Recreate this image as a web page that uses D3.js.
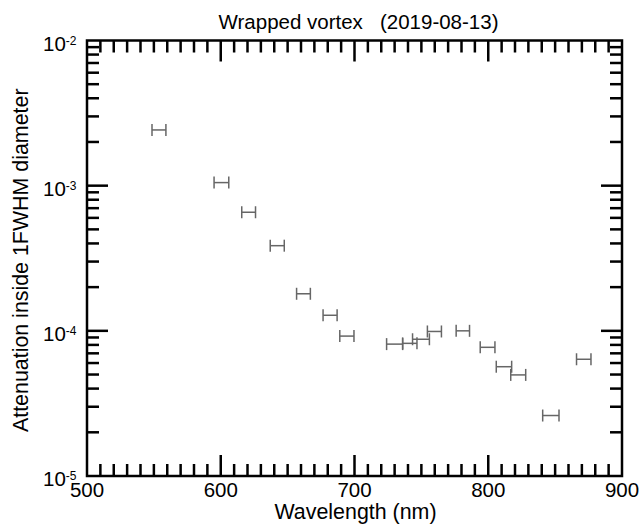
<!DOCTYPE html>
<html><head><meta charset="utf-8">
<script src="https://cdn.jsdelivr.net/npm/d3@7"></script>
<style>body{margin:0;background:#fff;} svg{display:block;font-family:"Liberation Sans",Arial,Helvetica,sans-serif;}</style>
</head><body>
<svg id="c" width="640" height="524"></svg>
<script>
const wlLow  = [548.6, 595, 615.7, 637, 656.7, 676.5, 689, 724, 736, 743.4, 754.5, 776, 794, 806, 816.8, 840.7, 866];
const wlHigh = [559, 606, 626, 647.5, 667, 687, 699.6, 736, 746.7, 756, 765, 786, 805, 817.5, 828, 852.9, 876.8];
const atten  = [2.42e-3, 1.05e-3, 6.56e-4, 3.86e-4, 1.80e-4, 1.28e-4, 9.2e-5, 8.1e-5, 8.2e-5, 8.75e-5, 9.9e-5, 1.0e-4, 7.7e-5, 5.66e-5, 4.97e-5, 2.61e-5, 6.37e-5];
const xTicks = [500, 600, 700, 800, 900];
const yExp = [-2, -3, -4, -5];
const title = "Wrapped vortex   (2019-08-13)";
const xLabel = "Wavelength (nm)";
const yLabel = "Attenuation inside 1FWHM diameter";

const L = 87, R = 622, T = 40.5, B = 476;
const svg = d3.select("#c");
const x = d3.scaleLinear().domain([500, 900]).range([L, R]);
const y = d3.scaleLog().domain([1e-5, 1e-2]).range([B, T]);

// minor and major ticks, inward on all sides
const g = svg.append("g").attr("stroke", "#000").attr("stroke-width", 2.5);
const xMinor = d3.range(510, 900, 10).filter(v => v % 100 !== 0);
const yMinor = [];
for (let e = -5; e < -2; e++) for (let m = 2; m <= 9; m++) yMinor.push(m * Math.pow(10, e));
const maj = 21, mnr = 12;
xMinor.forEach(v => {
  g.append("line").attr("x1", x(v)).attr("x2", x(v)).attr("y1", B).attr("y2", B - mnr);
  g.append("line").attr("x1", x(v)).attr("x2", x(v)).attr("y1", T).attr("y2", T + mnr);
});
xTicks.slice(1, -1).forEach(v => {
  g.append("line").attr("x1", x(v)).attr("x2", x(v)).attr("y1", B).attr("y2", B - maj);
  g.append("line").attr("x1", x(v)).attr("x2", x(v)).attr("y1", T).attr("y2", T + maj);
});
yMinor.forEach(v => {
  g.append("line").attr("y1", y(v)).attr("y2", y(v)).attr("x1", L).attr("x2", L + mnr);
  g.append("line").attr("y1", y(v)).attr("y2", y(v)).attr("x1", R).attr("x2", R - mnr);
});
yExp.slice(1, -1).forEach(e => {
  const v = Math.pow(10, e);
  g.append("line").attr("y1", y(v)).attr("y2", y(v)).attr("x1", L).attr("x2", L + maj);
  g.append("line").attr("y1", y(v)).attr("y2", y(v)).attr("x1", R).attr("x2", R - maj);
});
svg.append("rect").attr("x", L).attr("y", T).attr("width", R - L).attr("height", B - T)
  .attr("fill", "none").attr("stroke", "#000").attr("stroke-width", 2.5);

// x tick labels
svg.append("g").selectAll("text").data(xTicks).join("text")
  .attr("x", d => x(d)).attr("y", B + 20.7).attr("text-anchor", "middle")
  .attr("font-size", 20.5).text(d => d);

// y tick labels
const yl = svg.append("g").selectAll("text").data(yExp).join("text")
  .attr("x", 43).attr("y", d => y(Math.pow(10, d)) + 10).attr("font-size", 20.5);
yl.append("tspan").text("10");
yl.append("tspan").attr("dy", -6).attr("font-size", 12).text(d => d);

// titles
svg.append("text").attr("x", 358.5).attr("y", 29).attr("text-anchor", "middle")
  .attr("font-size", 20.5).attr("xml:space", "preserve").style("white-space", "pre").text(title);
svg.append("text").attr("x", (L + R) / 2 + 1).attr("y", 519).attr("text-anchor", "middle")
  .attr("font-size", 21.4).text(xLabel);
svg.append("text").attr("transform", `translate(27.5,${(T + B) / 2 + 2}) rotate(-90)`)
  .attr("text-anchor", "middle").attr("font-size", 21.4).text(yLabel);

// error bars
const eb = svg.append("g").attr("stroke", "#666").attr("stroke-width", 1.5).attr("fill", "none");
atten.forEach((v, i) => {
  const yy = y(v), x0 = x(wlLow[i]), x1 = x(wlHigh[i]);
  eb.append("line").attr("x1", x0).attr("x2", x1).attr("y1", yy).attr("y2", yy);
  eb.append("line").attr("x1", x0).attr("x2", x0).attr("y1", yy - 6).attr("y2", yy + 6);
  eb.append("line").attr("x1", x1).attr("x2", x1).attr("y1", yy - 6).attr("y2", yy + 6);
});
</script>
</body></html>
